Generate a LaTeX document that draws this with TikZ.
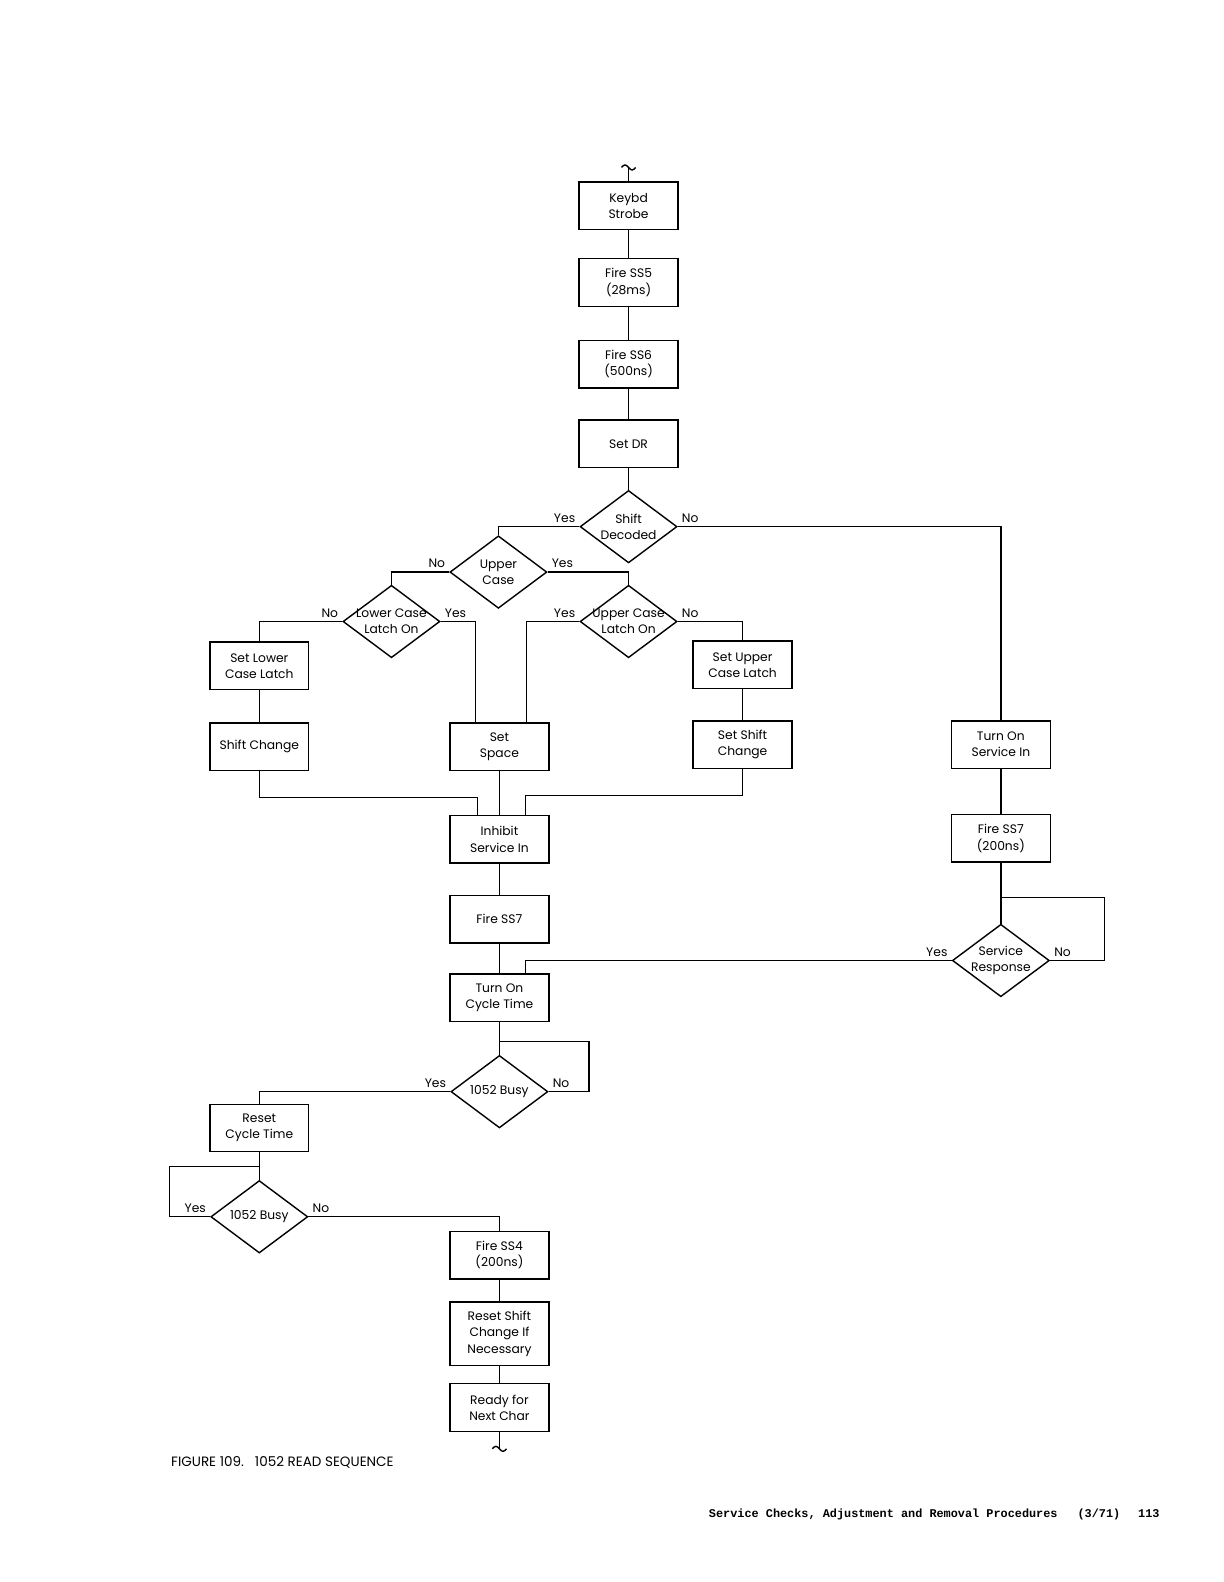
\documentclass[tikz,border=0pt]{standalone}
\usepackage{fontspec}
\setmainfont{Poppins}
\newfontfamily\typefont{Liberation Mono}
\usetikzlibrary{positioning, shapes.geometric, calc}

\begin{document}
\begin{tikzpicture}[
    x=0.02018cm, y=-0.02018cm,
    thick,
    font=\fontsize{7}{9.2}\selectfont,
    box node/.style={rectangle, draw, minimum width=1.98cm, minimum height=0.95cm, align=center, inner sep=1pt},
    decision node/.style={diamond, draw, minimum width=1.94cm, minimum height=1.45cm, inner sep=0pt},
    decision text/.style={align=center, inner sep=0pt},
    west answer/.style={anchor=south east, inner sep=2pt},
    east answer/.style={anchor=south west, inner sep=2pt}
]
    \useasboundingbox (0,0) rectangle (1213,1568);

    % Nodes
    \node[box node] (keybd) at (623,204) {Keybd\\Strobe};
    \node[box node] (ss5) at (623,280) {Fire SS5\\(28ms)};
    \node[box node] (ss6) at (623,361) {Fire SS6\\(500ns)};
    \node[box node] (setdr) at (623,440) {Set DR};
    \node[decision node, label={[decision text]center:Shift\\Decoded}] (shift) at (623,522) {};
    \node[decision node, label={[decision text]center:Upper\\Case}] (upper) at (494,567) {};
    \node[decision node, label={[decision text]center:Lower Case\\Latch On}] (lower) at (388,616) {};
    \node[decision node, label={[decision text]center:Upper Case\\Latch On}] (ulatch) at (623,616) {};
    \node[box node] (setlower) at (257,660) {Set Lower\\Case Latch};
    \node[box node] (shiftchg) at (257,740) {Shift Change};
    \node[box node] (space) at (495,740) {Set\\Space};
    \node[box node] (setupper) at (736,659) {Set Upper\\Case Latch};
    \node[box node] (setshift) at (736,738) {Set Shift\\Change};
    \node[box node] (inhibit) at (495,832) {Inhibit\\Service In};
    \node[box node] (ss7) at (495,911) {Fire SS7};
    \node[box node] (cycle) at (495,989) {Turn On\\Cycle Time};
    \node[box node] (servin) at (992,738) {Turn On\\Service In};
    \node[box node] (ss7r) at (992,831) {Fire SS7\\(200ns)};
    \node[decision node, label={[decision text]center:Service\\Response}] (resp) at (992,952) {};
    \node[decision node, label={[decision text]center:1052 Busy}] (busyA) at (495,1082) {};
    \node[box node] (resetc) at (257,1118) {Reset\\Cycle Time};
    \node[decision node, label={[decision text]center:1052 Busy}] (busyB) at (257,1206) {};
    \node[box node] (ss4) at (495,1244) {Fire SS4\\(200ns)};
    \node[box node, minimum height=1.27cm] (resetsh) at (495,1322) {Reset Shift\\Change If\\Necessary};
    \node[box node] (ready) at (495,1395) {Ready for\\Next Char};

    \coordinate (top end) at (623,166);
    \coordinate (bottom end) at (495,1436);
    \coordinate (space left) at ($(space.north)+(-24,0)$);
    \coordinate (space right) at ($(space.north)+(27,0)$);
    \coordinate (inhibit left) at ($(inhibit.north)+(-22,0)$);
    \coordinate (inhibit right) at ($(inhibit.north)+(26,0)$);
    \coordinate (cycle right) at ($(cycle.north)+(26,0)$);

    % Edges
    \draw (top end) -- (keybd);
    \draw ($(top end)+(-7,0)$) sin ++(3.5,-2.5) cos ++(3.5,2.5) sin ++(3.5,2.5) cos ++(3.5,-2.5);
    \draw (keybd) -- (ss5);
    \draw (ss5) -- (ss6);
    \draw (ss6) -- (setdr);
    \draw (setdr) -- (shift);
    \draw (shift.west) node[west answer] {Yes} -| (upper.north);
    \draw (shift.east) node[east answer] {No} -| (servin.north);
    \draw (upper.west) node[west answer] {No} -| (lower.north);
    \draw (upper.east) node[east answer] {Yes} -| (ulatch.north);
    \draw (lower.west) node[west answer] {No} -| (setlower.north);
    \draw (lower.east) node[east answer] {Yes} -| (space left);
    \draw (ulatch.west) node[west answer] {Yes} -| (space right);
    \draw (ulatch.east) node[east answer] {No} -| (setupper.north);
    \draw (setlower) -- (shiftchg);
    \draw (setupper) -- (setshift);
    \draw (shiftchg.south) -- ++(0,26) -| (inhibit left);
    \draw (space) -- (inhibit);
    \draw (setshift.south) -- ++(0,26) -| (inhibit right);
    \draw (inhibit) -- (ss7);
    \draw (ss7) -- (cycle);
    \draw (servin) -- (ss7r);
    \draw (ss7r) -- (resp);
    \draw (resp.east) node[east answer] {No} -- ++(54,0) |- ($(resp.north)+(0,-26)$);
    \draw (resp.west) node[west answer] {Yes} -| (cycle right);
    \draw (cycle) -- (busyA);
    \draw (busyA.east) node[east answer] {No} -- ++(40,0) |- ($(busyA.north)+(0,-13)$);
    \draw (busyA.west) node[west answer] {Yes} -| (resetc.north);
    \draw (resetc) -- (busyB);
    \draw (busyB.west) node[west answer] {Yes} -- ++(-40,0) |- ($(busyB.north)+(0,-13)$);
    \draw (busyB.east) node[east answer] {No} -| (ss4.north);
    \draw (ss4) -- (resetsh);
    \draw (resetsh) -- (ready);
    \draw (ready) -- (bottom end);
    \draw ($(bottom end)+(-7,0)$) sin ++(3.5,-2.5) cos ++(3.5,2.5) sin ++(3.5,2.5) cos ++(3.5,-2.5);

    % Captions
    \node[anchor=west, inner sep=0pt, font=\fontsize{7.7}{9}\selectfont] (caption) at (169,1449)
        {FIGURE 109.\hspace{0.22cm}1052 READ SEQUENCE};
    \node[anchor=west, inner sep=0pt, font=\typefont\bfseries\fontsize{6.75}{8}\selectfont] (footer) at (702,1501)
        {Service Checks, Adjustment and Removal Procedures\hspace{0.4cm}(3/71)\hspace{0.36cm}113};
\end{tikzpicture}
\end{document}
